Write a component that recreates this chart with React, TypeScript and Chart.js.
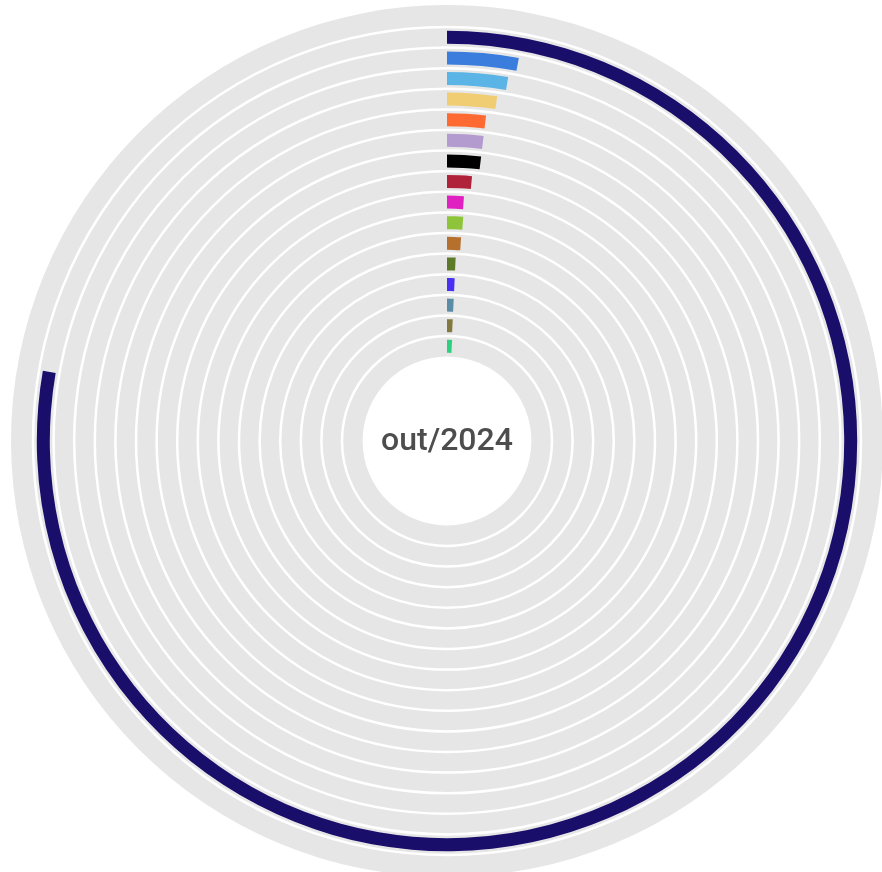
import React, { useEffect, useRef } from "react";
import { Chart, registerables } from "chart.js";

Chart.register(...registerables);

const centerLabel = "out/2024";
const seriesNames = [
  "S1", "S2", "S3", "S4", "S5", "S6", "S7", "S8",
  "S9", "S10", "S11", "S12", "S13", "S14", "S15", "S16",
];
const shareValues = [
  77.7, 2.95, 2.65, 2.3, 1.9, 1.9, 1.9, 1.5,
  1.1, 1.15, 1.1, 0.75, 0.75, 0.75, 0.75, 0.8,
];
const seriesColors = [
  "#1a0e6b", "#3b7ddd", "#5ab4e5", "#f0cd72", "#ff6a33", "#b39bd0", "#000000", "#b0223a",
  "#e020c0", "#8dc43a", "#b5702e", "#5d7a2a", "#4a2ff5", "#5a8ca5", "#837840", "#2ed080",
];

const OUTER_R = 436;
const HOLE_R = 84.4;
const OUTER_PAD = 22;
const BAND = 20.6;
const BAR = 13;
const TRACK = "#e6e6e6";

export default function App() {
  const ref = useRef<HTMLCanvasElement | null>(null);

  useEffect(() => {
    if (!ref.current) return;
    const total = shareValues.reduce((a, b) => a + b, 0);
    const pad = (BAND - BAR) / 2;
    const datasets: any[] = [
      { label: "pad-outer", data: [1], backgroundColor: ["rgba(0,0,0,0)"], borderWidth: 0, weight: OUTER_PAD },
    ];
    shareValues.forEach((v, i) => {
      datasets.push({ label: "pad", data: [1], backgroundColor: ["rgba(0,0,0,0)"], borderWidth: 0, weight: pad });
      datasets.push({
        label: seriesNames[i],
        data: [v, total - v],
        backgroundColor: [seriesColors[i], "rgba(0,0,0,0)"],
        borderWidth: 0,
        weight: BAR,
      });
      datasets.push({ label: "pad", data: [1], backgroundColor: ["rgba(0,0,0,0)"], borderWidth: 0, weight: pad });
    });

    const bgPlugin = {
      id: "tracks",
      beforeDatasetsDraw(chart: any) {
        const { ctx, chartArea } = chart;
        const cx = (chartArea.left + chartArea.right) / 2;
        const cy = (chartArea.top + chartArea.bottom) / 2;
        ctx.save();
        ctx.beginPath();
        ctx.arc(cx, cy, OUTER_R, 0, Math.PI * 2);
        ctx.arc(cx, cy, HOLE_R, 0, Math.PI * 2, true);
        ctx.fillStyle = TRACK;
        ctx.fill("evenodd");
        ctx.strokeStyle = "#ffffff";
        ctx.lineWidth = 2.5;
        for (let k = 0; k < shareValues.length; k++) {
          const r = OUTER_R - OUTER_PAD - BAND * k;
          ctx.beginPath();
          ctx.arc(cx, cy, r, 0, Math.PI * 2);
          ctx.stroke();
        }
        ctx.restore();
      },
      afterDraw(chart: any) {
        const { ctx, chartArea } = chart;
        const cx = (chartArea.left + chartArea.right) / 2;
        const cy = (chartArea.top + chartArea.bottom) / 2;
        ctx.save();
        ctx.font = "500 32px Roboto";
        ctx.fillStyle = "#4d4d4d";
        ctx.textAlign = "center";
        ctx.textBaseline = "middle";
        ctx.fillText(centerLabel, cx, cy + 1);
        ctx.restore();
      },
    };

    const chart = new Chart(ref.current, {
      type: "doughnut",
      data: { labels: ["value", "rest"], datasets },
      options: {
        animation: false,
        responsive: false,
        radius: OUTER_R,
        cutout: HOLE_R,
        layout: { padding: 0 },
        plugins: { legend: { display: false }, tooltip: { enabled: false } },
        events: [],
      } as any,
      plugins: [bgPlugin],
    });
    return () => chart.destroy();
  }, []);

  return (
    <div style={{ position: "fixed", left: 10.5, top: 5, width: 872, height: 872 }}>
      <canvas ref={ref} width={872} height={872} />
    </div>
  );
}
